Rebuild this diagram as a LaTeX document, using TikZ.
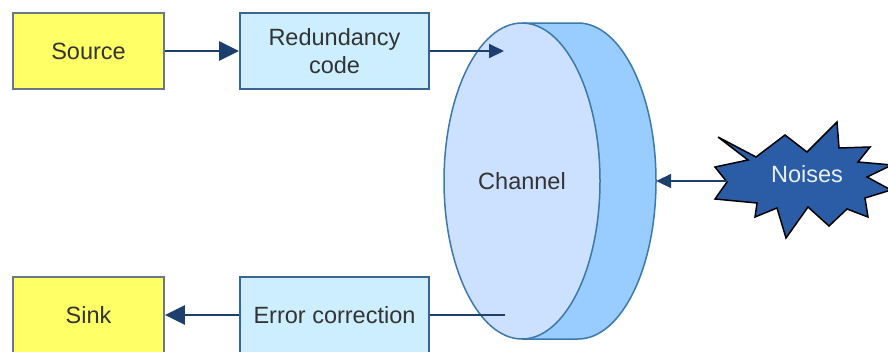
\documentclass[tikz,border=0pt]{standalone}
\usepackage{fontspec}
\setmainfont{Liberation Sans}
\usetikzlibrary{arrows.meta,shapes.geometric}
\definecolor{yel}{HTML}{FFFF66}
\definecolor{yelb}{HTML}{6A7886}
\definecolor{lb}{HTML}{CCEEFF}
\definecolor{lbb}{HTML}{3A6494}
\definecolor{navy}{HTML}{1C3F6E}
\definecolor{chf}{HTML}{CCE0FF}
\definecolor{chb}{HTML}{99CCFF}
\definecolor{chl}{HTML}{3C78AA}
\definecolor{starf}{HTML}{2B5DA6}
\definecolor{txt}{HTML}{333333}
\tikzset{
  every node/.style={font=\fontsize{23.5}{28}\selectfont, text=txt},
  ybox/.style={draw=yelb, fill=yel, line width=1.8pt, minimum width=151pt, minimum height=76pt, inner sep=0pt},
  bbox/.style={draw=lbb, fill=lb, line width=1.8pt, minimum width=189pt, minimum height=76pt, inner sep=0pt, align=center},
  bigarrow/.style={draw=navy, line width=2.6pt, -{Triangle[length=20pt,width=19pt]}},
  thinarrow/.style={draw=navy, line width=2pt, -{Triangle[length=15pt,width=14pt]}},
  thinline/.style={draw=navy, line width=1.6pt},
}
\begin{document}
\begin{tikzpicture}[x=1pt,y=-1pt]
\useasboundingbox (0,0) rectangle (888,351);
\begin{scope}
\clip (0,0) rectangle (888,351);
% boxes
\node[ybox] (source) at (88.5,51) {Source};
\node[bbox, text width=170pt] (red) at (334.5,51) {Redundancy\\code};
\node[ybox] (sink) at (88.5,315) {Sink};
\node[bbox] (err) at (334.5,315) {Error correction};
% channel back
\fill[chb, draw=chl, line width=1.5pt] (523,23) -- (578,23) arc[start angle=-90, end angle=90, x radius=78, y radius=158] -- (523,339) -- cycle;
\node[ellipse, minimum width=156pt, minimum height=316pt, inner sep=0pt] (chback) at (578,181) {};
\node[ellipse, draw=chl, fill=chf, line width=1.5pt, minimum width=156pt, minimum height=316pt, inner sep=0pt] (chan) at (522,181) {Channel};
% star
\fill[starf, draw=black, line width=1.5pt]
 (718,137) -- (756,157) -- (785,135) -- (807,152) -- (837,122) -- (839,148) -- (870,147) -- (858,162)
 -- (892,165) -- (867,177) -- (891,190) -- (865,198) -- (868,217) -- (847,209) -- (829,226) -- (808,207)
 -- (786,238) -- (777,208) -- (755,217) -- (757,203) -- (715,199) -- (727,182) -- (715,167) -- (748,160) -- cycle;
\node[text=white!90!starf] (noise) at (807,174) {Noises};
\coordinate (noisetip) at (727,181);
\coordinate (chin) at (504,51);
\coordinate (chout) at (505,315);
% connectors
\draw[bigarrow] (source.east) -- (red.west);
\draw[thinarrow] (red.east |- chin) -- (chin);
\draw[bigarrow] (err.west) -- (sink.east);
\draw[thinline] (err.east |- chout) -- (chout);
\draw[thinarrow] (noisetip) -- (chback.east);
\end{scope}
\end{tikzpicture}
\end{document}
